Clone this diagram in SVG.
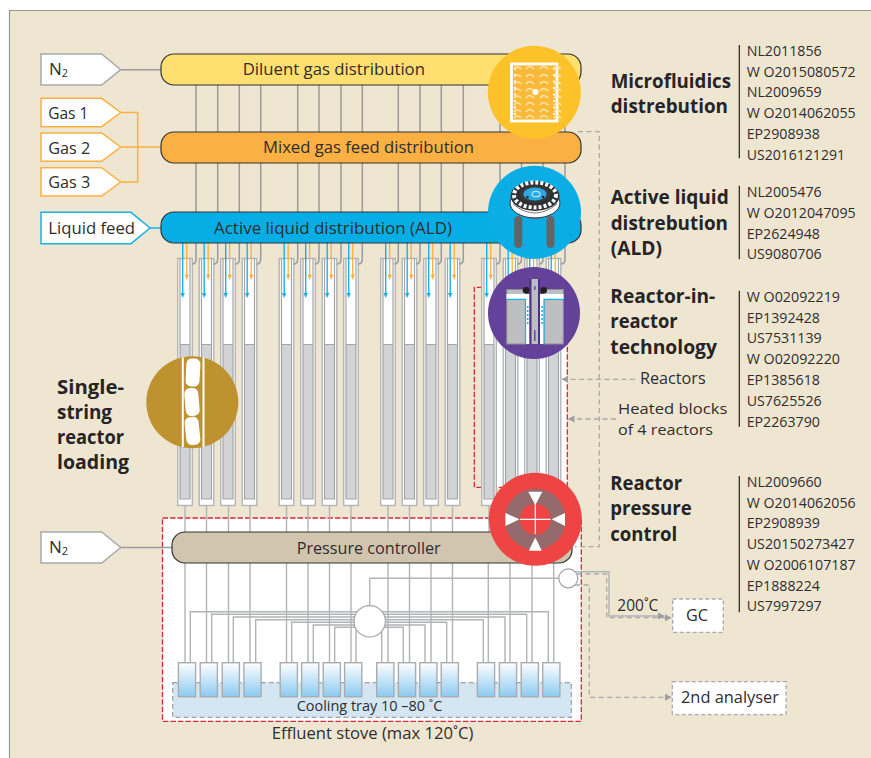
<svg xmlns="http://www.w3.org/2000/svg" xmlns:xlink="http://www.w3.org/1999/xlink" width="871" height="758" viewBox="0 0 871 758">
<style>
text{font-family:"Open Sans","Liberation Sans",sans-serif;fill:#2f2d2e}
.b{font-size:17px}
.c{font-size:15.300px}
.p{font-size:14.300px}
.h{font-size:19.500px;font-weight:700;fill:#262425}
.g{fill:none;stroke:#9b9b9d;stroke-width:1.5}
.l{fill:none;stroke:#b2b3b5;stroke-width:1.4}
.d{fill:none;stroke:#a7a9ac;stroke-width:1.3;stroke-dasharray:5 3.5}
.r{fill:none;stroke:#d6273f;stroke-width:1.3;stroke-dasharray:5.5 2}
.bar{stroke:#333;stroke-width:1.2}
.v{fill:url(#vg);stroke:#a9adb1;stroke-width:1.4}
.a{fill:#fff;stroke-width:1.5}
</style>
<defs>
<linearGradient id="vg" x1="0" y1="0" x2="0" y2="1"><stop offset="0" stop-color="#fff"/><stop offset="1" stop-color="#8ccaf0"/></linearGradient>
<marker id="ma" markerUnits="userSpaceOnUse" markerWidth="8" markerHeight="8" refX="6" refY="4" orient="auto"><path d="M0 0.5L6.500 4L0 7.500z" fill="#9d9fa2"/></marker>
<path id="hook" class="g" d="M0 243V259q0 5-4 5"/>
<g id="feed">
<path d="M-2.300 243V294" fill="none" stroke="#1bb1e7" stroke-width="1.4"/><path d="M-4.500 293H-0.100L-2.300 298z" fill="#1bb1e7"/>
<path d="M1.700 243V275" fill="none" stroke="#fbb040" stroke-width="1.3"/><path d="M-0.400 274.500H3.800L1.700 280z" fill="#fbb040"/>
</g>
<g id="tube">
<rect x="-7.300" y="258.500" width="14.600" height="247" fill="#fff" stroke="#b4b5b7" stroke-width="1.4"/>
<rect x="-5" y="344.500" width="10" height="154.500" fill="#d1d3d4"/>
<path d="M-5 258.500V499H5V258.500M-5 344.500H5" fill="none" stroke="#a3a5a8" stroke-width="1.200"/>
</g>
<rect id="vial" class="v" x="-8.600" y="662.700" width="17.200" height="34"/>
<path id="wave" d="M-21 0q3.500-4 7 0m5 0q3.500-5 8 0m6 0q3.500-5 8 0m6 0q3.500-4 7 0" fill="none" stroke="#ffe7ae" stroke-width="1.600"/>
</defs>

<rect x="9" y="10" width="862" height="748" fill="#efe6d2"/>
<path d="M9.500 758V10.500H871" fill="none" stroke="#98989a" stroke-width="1.200"/>

<rect x="162.500" y="518" width="418.800" height="203.300" fill="#fff"/>
<rect x="496" y="287.500" width="71" height="200" fill="#fff"/>
<rect id="tray" x="172.700" y="682.700" width="398.600" height="34.600" fill="#d3e6f2" stroke="#9d9fa2" stroke-width="1.200" stroke-dasharray="5 3"/>
<rect id="stove" class="r" x="162.500" y="518" width="418.800" height="203.300"/>
<path class="r" d="M567.300 487.300V287.300H474.300V487.300H567.300"/>

<g id="connectors">
<path class="g" d="M120 69.700H161M196 85V132M217.700 85V132M239.300 85V132M260.700 85V132M297.700 85V132M319 85V132M341 85V132M362.300 85V132M398.300 85V132M420 85V132M441.300 85V132M463.300 85V132M500 85V132M521.500 85V132M543 85V132M565 85V132"/>
<path class="g" d="M196 163V212M217.700 163V212M239.300 163V212M260.700 163V212M297.700 163V212M319 163V212M341 163V212M362.300 163V212M398.300 163V212M420 163V212M441.300 163V212M463.300 163V212M500 163V212M521.500 163V212M543 163V212M565 163V212"/>
<path d="M120.500 112.500H137.700V182H120.500M120.500 147H161" fill="none" stroke="#fbb040" stroke-width="1.500"/>
<path d="M150 228H161" fill="none" stroke="#1bb1e7" stroke-width="1.500"/>
<path class="g" d="M120 547.500H172"/>
<g id="reactor-outlets" class="l">
<path d="M185 505V532M206.500 505V532M228.500 505V532M250 505V532M286.500 505V532M308 505V532M329.500 505V532M351 505V532M388 505V532M409.500 505V532M431 505V532M452.500 505V532M489 505V532M510.500 505V532M532 505V532M553.500 505V532"/>
<path d="M185 563V662M206.500 563V662M228.500 563V662M250 563V662M286.500 563V662M308 563V662M329.500 563V662M351 563V662M388 563V662M409.500 563V662M431 563V662M452.500 563V662M488.300 563V662M510 563V662M532 563V662M553.700 563V662"/>
<path d="M370 611.700H190.300V662M370 614.300H211.700V662M370 617H233.300V662M370 619.700H255.700V662M370 622.300H291.700V662M370 625H313.300V662M370 627.300H334.700V662M356 630V662"/>
<path d="M370 611.700H548.300V662M370 614.300H526.700V662M370 617H505V662M370 619.700H483.300V662M370 622.300H446.700V662M370 625H425V662M370 627.300H403.300V662M381.700 630V662"/>
<path d="M369.700 606V578.300H560"/>
</g>
<path class="l" d="M575 571.700H609V616H664" marker-end="url(#ma)"/>
<path class="d" d="M577 574H606.700V617.700H671" marker-end="url(#ma)"/>
<path class="d" d="M575 585H589.300V697.300H671" marker-end="url(#ma)"/>
<path class="d" d="M578 131.700H599.300V546.700H575"/>
<path class="d" d="M635 379.300H562" marker-end="url(#ma)"/>
<path class="d" d="M616 419H568.500" marker-end="url(#ma)"/>
</g>

<g id="tubes">
<use href="#tube" x="185"/><use href="#tube" x="206.500"/><use href="#tube" x="228"/><use href="#tube" x="249.500"/>
<use href="#tube" x="286.500"/><use href="#tube" x="308"/><use href="#tube" x="329.500"/><use href="#tube" x="351"/>
<use href="#tube" x="388"/><use href="#tube" x="409.500"/><use href="#tube" x="431"/><use href="#tube" x="452.500"/>
<use href="#tube" x="489"/><use href="#tube" x="510.500"/><use href="#tube" x="532"/><use href="#tube" x="553.500"/>
</g>
<g id="feeds">
<use href="#hook" x="196"/><use href="#hook" x="217.700"/><use href="#hook" x="239.300"/><use href="#hook" x="260.700"/>
<use href="#hook" x="297.700"/><use href="#hook" x="319"/><use href="#hook" x="341"/><use href="#hook" x="362.300"/>
<use href="#hook" x="398.300"/><use href="#hook" x="420"/><use href="#hook" x="441.300"/><use href="#hook" x="463.300"/>
<use href="#hook" x="500"/><use href="#hook" x="521.500"/><use href="#hook" x="543"/><use href="#hook" x="565"/>
<use href="#feed" x="185"/><use href="#feed" x="206.500"/><use href="#feed" x="228"/><use href="#feed" x="249.500"/>
<use href="#feed" x="286.500"/><use href="#feed" x="308"/><use href="#feed" x="329.500"/><use href="#feed" x="351"/>
<use href="#feed" x="388"/><use href="#feed" x="409.500"/><use href="#feed" x="431"/><use href="#feed" x="452.500"/>
<use href="#feed" x="489"/><use href="#feed" x="510.500"/><use href="#feed" x="532"/><use href="#feed" x="553.500"/>
</g>
<g id="vials">
<use href="#vial" x="187"/><use href="#vial" x="208.800"/><use href="#vial" x="230.800"/><use href="#vial" x="252.500"/>
<use href="#vial" x="288.800"/><use href="#vial" x="310.200"/><use href="#vial" x="331.800"/><use href="#vial" x="353.200"/>
<use href="#vial" x="385.300"/><use href="#vial" x="407"/><use href="#vial" x="428.400"/><use href="#vial" x="449.800"/>
<use href="#vial" x="486"/><use href="#vial" x="508"/><use href="#vial" x="529.800"/><use href="#vial" x="551.300"/>
</g>
<g id="splitter"><circle cx="369.700" cy="621.300" r="15.700" fill="#fff" stroke="#a3a5a8" stroke-width="1.200"/></g>
<g id="sampler"><circle cx="568.300" cy="578.300" r="9.500" fill="#fff" stroke="#a3a5a8" stroke-width="1.200"/></g>

<g id="n2-top"><path class="a" stroke="#a7a9ac" d="M41 54H101.700L120.700 69.700L101.700 85H41z"/><text class="b" x="49" y="75">N<tspan font-size="11" dy="2">2</tspan></text></g>
<g id="gas1"><path class="a" stroke="#fbb040" d="M41 98.300H101.700L120.700 112.500L101.700 126.700H41z"/><text class="b" x="48.300" y="119" textLength="40" lengthAdjust="spacingAndGlyphs">Gas 1</text></g>
<g id="gas2"><path class="a" stroke="#fbb040" d="M41 133H101.700L120.700 147L101.700 161.300H41z"/><text class="b" x="48.300" y="154" textLength="42" lengthAdjust="spacingAndGlyphs">Gas 2</text></g>
<g id="gas3"><path class="a" stroke="#fbb040" d="M41 167.700H101.700L120.700 182L101.700 196H41z"/><text class="b" x="48.300" y="188" textLength="42" lengthAdjust="spacingAndGlyphs">Gas 3</text></g>
<g id="liquid"><path class="a" stroke="#1bb1e7" d="M41 212.300H131L150 228L131 243.700H41z"/><text class="b" x="48.300" y="234" textLength="86.700" lengthAdjust="spacingAndGlyphs">Liquid feed</text></g>
<g id="n2-bottom"><path class="a" stroke="#a7a9ac" d="M41 532H101.700L120.700 547.500L101.700 563H41z"/><text class="b" x="49" y="553">N<tspan font-size="11" dy="2">2</tspan></text></g>

<g id="diluent"><rect class="bar" x="161" y="54" width="420" height="31" rx="13" fill="#ffdf6f"/><text class="b" x="242.700" y="75" textLength="182.300" lengthAdjust="spacingAndGlyphs">Diluent gas distribution</text></g>
<g id="mixed"><rect class="bar" x="161" y="132" width="420" height="31" rx="13" fill="#fbb044"/><text class="b" x="263" y="153" textLength="211" lengthAdjust="spacingAndGlyphs">Mixed gas feed distribution</text></g>
<g id="ald"><rect class="bar" x="161" y="212" width="420" height="31" rx="13" fill="#07aee5"/><text class="b" x="214" y="234" textLength="238" lengthAdjust="spacingAndGlyphs">Active liquid distribution (ALD)</text></g>
<g id="pressure"><rect class="bar" x="172" y="532" width="400" height="31" rx="13" fill="#d1c5af"/><text class="b" x="296.700" y="554" textLength="144" lengthAdjust="spacingAndGlyphs">Pressure controller</text></g>

<g id="gc"><rect x="672.700" y="599" width="50.600" height="33.300" fill="#fff" stroke="#a7a9ac" stroke-width="1.300" stroke-dasharray="4 2.500"/><text class="b" x="686" y="621" textLength="22" lengthAdjust="spacingAndGlyphs">GC</text></g>
<g id="analyser"><rect x="672.300" y="681.700" width="113.700" height="33" fill="#fff" stroke="#a7a9ac" stroke-width="1.300" stroke-dasharray="4 2.500"/><text class="b" x="681" y="703" textLength="98" lengthAdjust="spacingAndGlyphs">2nd analyser</text></g>

<g id="icon-microfluidics">
<circle cx="534.300" cy="92.300" r="46.500" fill="#fdc12a"/>
<rect x="511.500" y="64" width="45.500" height="57" fill="#fbb93a" stroke="#fff" stroke-width="2.800"/>
<path d="M515 67.500V118M554 67.500V118" stroke="#fff" stroke-width="2" stroke-dasharray="2 4.500" fill="none"/>
<use href="#wave" x="535" y="69"/><use href="#wave" x="535" y="77"/><use href="#wave" x="535" y="84"/><use href="#wave" x="535" y="91"/><use href="#wave" x="535" y="98"/><use href="#wave" x="535" y="105"/><use href="#wave" x="535" y="112"/><use href="#wave" x="535" y="118"/>
<circle cx="535.500" cy="92" r="3" fill="#fff"/>
</g>

<g id="icon-ald">
<circle cx="534.500" cy="212.300" r="46.500" fill="#0aaee4"/>
<rect x="530.500" y="208" width="9" height="11" rx="3" fill="#6d6e71"/>
<rect x="514.300" y="216" width="8" height="32" rx="4" fill="#636466"/>
<rect x="546.500" y="216" width="8" height="32" rx="4" fill="#636466"/>
<ellipse cx="535" cy="203" rx="25" ry="15" fill="#fff" stroke="#333" stroke-width="1"/>
<path d="M513 204Q535 222 557 204" fill="none" stroke="#555" stroke-width="0.800"/>
<ellipse cx="535" cy="196" rx="24.500" ry="15" fill="#2f3033"/>
<ellipse cx="535" cy="195" rx="21" ry="12.500" fill="none" stroke="#fff" stroke-width="4" stroke-dasharray="3 2"/>
<ellipse cx="535" cy="194" rx="15" ry="8.500" fill="#38393b"/>
<ellipse cx="535" cy="194" rx="11.500" ry="6.500" fill="#29a9e0"/>
<ellipse cx="536" cy="194" rx="4" ry="2.700" fill="none" stroke="#a9e2f8" stroke-width="1.300"/>
<circle cx="527.500" cy="197" r="1.200" fill="#222"/><circle cx="543" cy="197" r="1.200" fill="#222"/>
</g>

<g id="icon-reactor">
<circle cx="534" cy="313" r="46" fill="#65429a"/>
<rect x="506.800" y="289.500" width="18.700" height="54.500" fill="#bcbec0" stroke="#8d8f92" stroke-width="1"/>
<rect x="544" y="289.500" width="19.300" height="54.500" fill="#bcbec0" stroke="#8d8f92" stroke-width="1"/>
<path d="M506.500 294H530V344H525.500V299H506.500z" fill="#fff"/>
<path d="M563.500 294H540V344H544V299H563.500z" fill="#fff"/>
<path d="M506.500 299.300H525.500V344" fill="none" stroke="#1bb1e7" stroke-width="1.200"/>
<path d="M563.500 299.300H544V344" fill="none" stroke="#1bb1e7" stroke-width="1.200"/>
<rect x="529.300" y="279" width="10.700" height="65" fill="#4f2f86"/>
<rect x="531.500" y="279" width="6.500" height="65" fill="#bcbec0"/>
<path d="M534.800 286V290M534.800 330V341" stroke="#65429a" stroke-width="1.400"/>
<path d="M527.700 306V326M542.200 306V326" stroke="#1bb1e7" stroke-width="1.600" stroke-dasharray="2 2"/>
<circle cx="526" cy="290.300" r="3.300" fill="#231f20"/><circle cx="543.700" cy="290.300" r="3.300" fill="#231f20"/>
</g>

<g id="icon-pressure">
<circle cx="535.300" cy="519.300" r="46.500" fill="#ef4444"/>
<circle cx="535.300" cy="519.300" r="30.500" fill="#946a6c"/>
<circle cx="535.300" cy="519.300" r="15.500" fill="#ef4444"/>
<path d="M535.300 504V534M520 519.300H550.500" stroke="#fff" stroke-width="1.200"/>
<path d="M528.300 491.700H542.300L535.300 505zM528.800 550.700H541.800L535.300 537.500zM505.400 513L505.400 526L519.500 519.300zM565 513V526L551.700 519.300z" fill="#fff"/>
</g>

<g id="icon-pellets">
<circle cx="192.300" cy="402.300" r="46" fill="#be922f"/>
<path d="M182.800 357.500V447M203.500 357.500V447" stroke="#fff" stroke-width="2"/>
<rect x="186" y="358.500" width="14" height="28" rx="5.500" fill="#fff" transform="rotate(3 193 372)"/>
<rect x="185" y="388" width="14" height="28" rx="5.500" fill="#fff" transform="rotate(-5 192 402)"/>
<rect x="185.500" y="417" width="14" height="28" rx="5.500" fill="#fff" transform="rotate(-6 192 431)"/>
</g>

<g id="labels">
<text class="h" x="57" y="394" textLength="67" lengthAdjust="spacingAndGlyphs">Single-</text>
<text class="h" x="57" y="419" textLength="55" lengthAdjust="spacingAndGlyphs">string</text>
<text class="h" x="57" y="444" textLength="67" lengthAdjust="spacingAndGlyphs">reactor</text>
<text class="h" x="57" y="469" textLength="72" lengthAdjust="spacingAndGlyphs">loading</text>

<text class="h" x="610.700" y="88.300" textLength="120.300" lengthAdjust="spacingAndGlyphs">Microfluidics</text>
<text class="h" x="610.700" y="113" textLength="117.300" lengthAdjust="spacingAndGlyphs">distrebution</text>
<text class="h" x="610.700" y="204" textLength="118" lengthAdjust="spacingAndGlyphs">Active liquid</text>
<text class="h" x="610.700" y="229.500" textLength="117.300" lengthAdjust="spacingAndGlyphs">distrebution</text>
<text class="h" x="610.700" y="255" textLength="51.300" lengthAdjust="spacingAndGlyphs">(ALD)</text>
<text class="h" x="610.300" y="302.700" textLength="105" lengthAdjust="spacingAndGlyphs">Reactor-in-</text>
<text class="h" x="610.300" y="328" textLength="67.400" lengthAdjust="spacingAndGlyphs">reactor</text>
<text class="h" x="610.300" y="353.800" textLength="106.700" lengthAdjust="spacingAndGlyphs">technology</text>
<text class="h" x="610.300" y="490" textLength="72" lengthAdjust="spacingAndGlyphs">Reactor</text>
<text class="h" x="610.300" y="515" textLength="81.400" lengthAdjust="spacingAndGlyphs">pressure</text>
<text class="h" x="610.300" y="540.700" textLength="67" lengthAdjust="spacingAndGlyphs">control</text>

<text class="b" x="640" y="384" textLength="65.700" lengthAdjust="spacingAndGlyphs">Reactors</text>
<text class="c" x="618" y="413.500" textLength="109.300" lengthAdjust="spacingAndGlyphs">Heated blocks</text>
<text class="c" x="618" y="434.500" textLength="95" lengthAdjust="spacingAndGlyphs">of 4 reactors</text>
<text class="b" x="617.300" y="611" textLength="41" lengthAdjust="spacingAndGlyphs">200˚C</text>
<text class="p" x="296.700" y="711" textLength="145.600" lengthAdjust="spacingAndGlyphs">Cooling tray 10 –80 ˚C</text>
<text class="b" x="271.700" y="739.300" textLength="201.600" lengthAdjust="spacingAndGlyphs">Effluent stove (max 120˚C)</text>

<path d="M739.300 45V158.300M739.300 185.700V259.300M739.300 290.700V426.700M739.300 476V612.300" stroke="#231f20" stroke-width="1.200" fill="none"/>

<text class="p" x="746.700" y="56" textLength="75" lengthAdjust="spacingAndGlyphs">NL2011856</text>
<text class="p" x="746.700" y="76.700" textLength="109" lengthAdjust="spacingAndGlyphs">W O2015080572</text>
<text class="p" x="746.700" y="97.300" textLength="75" lengthAdjust="spacingAndGlyphs">NL2009659</text>
<text class="p" x="746.700" y="118.300" textLength="109" lengthAdjust="spacingAndGlyphs">W O2014062055</text>
<text class="p" x="746.700" y="139" textLength="73.300" lengthAdjust="spacingAndGlyphs">EP2908938</text>
<text class="p" x="746.700" y="160" textLength="98.300" lengthAdjust="spacingAndGlyphs">US2016121291</text>

<text class="p" x="746.700" y="197.300" textLength="75" lengthAdjust="spacingAndGlyphs">NL2005476</text>
<text class="p" x="746.700" y="218.300" textLength="109" lengthAdjust="spacingAndGlyphs">W O2012047095</text>
<text class="p" x="746.700" y="239" textLength="73.300" lengthAdjust="spacingAndGlyphs">EP2624948</text>
<text class="p" x="746.700" y="259.300" textLength="75" lengthAdjust="spacingAndGlyphs">US9080706</text>

<text class="p" x="746.700" y="301.700" textLength="93.300" lengthAdjust="spacingAndGlyphs">W O02092219</text>
<text class="p" x="746.700" y="322.700" textLength="73.300" lengthAdjust="spacingAndGlyphs">EP1392428</text>
<text class="p" x="746.700" y="343.300" textLength="75" lengthAdjust="spacingAndGlyphs">US7531139</text>
<text class="p" x="746.700" y="364.300" textLength="93.300" lengthAdjust="spacingAndGlyphs">W O02092220</text>
<text class="p" x="746.700" y="385" textLength="73.300" lengthAdjust="spacingAndGlyphs">EP1385618</text>
<text class="p" x="746.700" y="405.700" textLength="75" lengthAdjust="spacingAndGlyphs">US7625526</text>
<text class="p" x="746.700" y="426.700" textLength="73.300" lengthAdjust="spacingAndGlyphs">EP2263790</text>

<text class="p" x="746.700" y="487" textLength="75" lengthAdjust="spacingAndGlyphs">NL2009660</text>
<text class="p" x="746.700" y="507.700" textLength="109" lengthAdjust="spacingAndGlyphs">W O2014062056</text>
<text class="p" x="746.700" y="528.300" textLength="73.300" lengthAdjust="spacingAndGlyphs">EP2908939</text>
<text class="p" x="746.700" y="549" textLength="108" lengthAdjust="spacingAndGlyphs">US20150273427</text>
<text class="p" x="746.700" y="570" textLength="109" lengthAdjust="spacingAndGlyphs">W O2006107187</text>
<text class="p" x="746.700" y="590.700" textLength="73.300" lengthAdjust="spacingAndGlyphs">EP1888224</text>
<text class="p" x="746.700" y="611" textLength="75" lengthAdjust="spacingAndGlyphs">US7997297</text>
</g>
</svg>
